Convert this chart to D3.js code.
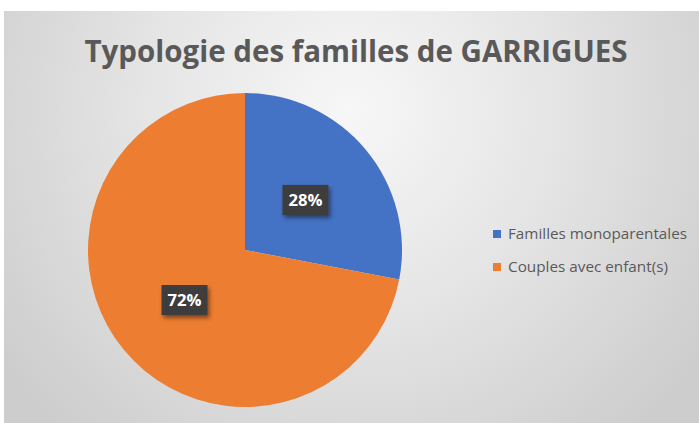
<!DOCTYPE html>
<html>
<head>
<meta charset="utf-8">
<style>
  body { margin: 0; background: #fff; }
  svg { display: block; }
</style>
</head>
<body>
<svg class="chart"></svg>

<script src="https://cdn.jsdelivr.net/npm/d3@7"></script>
<script>
// data
categories = ["Familles monoparentales", "Couples avec enfant(s)"]
values     = [28, 72]
colors     = ["#4472C4", "#ED7D31"]
title      = "Typologie des familles de GARRIGUES"

width  = 699
height = 423

const svg = d3.select("svg")
    .attr("width", width)
    .attr("height", height)
    .attr("viewBox", [0, 0, width, height]);

const defs = svg.append("defs");

// chart area background: radial gradient, light near top centre
const bg = defs.append("radialGradient")
    .attr("id", "bg")
    .attr("gradientUnits", "userSpaceOnUse")
    .attr("cx", 350).attr("cy", 110).attr("r", 430);
bg.append("stop").attr("offset", "0%").attr("stop-color", "#f7f7f7");
bg.append("stop").attr("offset", "45%").attr("stop-color", "#e6e6e6");
bg.append("stop").attr("offset", "100%").attr("stop-color", "#cdcdcd");

const shadow = defs.append("filter")
    .attr("id", "shadow")
    .attr("x", "-30%").attr("y", "-30%")
    .attr("width", "160%").attr("height", "160%");
shadow.append("feDropShadow")
    .attr("dx", 2).attr("dy", 3)
    .attr("stdDeviation", 2)
    .attr("flood-color", "#000")
    .attr("flood-opacity", 0.45);

svg.append("rect")
    .attr("x", 4).attr("y", 11)
    .attr("width", width - 4).attr("height", height - 11)
    .attr("fill", "url(#bg)");

// title (Calibri is not available, so the bold sans is squeezed to the same width)
svg.append("text")
    .attr("x", 356).attr("y", 62)
    .attr("text-anchor", "middle")
    .attr("font-family", "Open Sans, sans-serif")
    .attr("font-weight", "bold")
    .attr("font-size", 31)
    .attr("fill", "#595959")
    .attr("textLength", 543)
    .attr("lengthAdjust", "spacingAndGlyphs")
    .text(title);

// pie
const cx = 245, cy = 250, r = 157;

const pie = d3.pie().sort(null).value(d => d)(values);
const arc = d3.arc().innerRadius(0).outerRadius(r);

const g = svg.append("g")
    .attr("transform", `translate(${cx},${cy})`);

g.selectAll("path")
    .data(pie)
    .join("path")
      .attr("d", arc)
      .attr("fill", (d, i) => colors[i]);

// data labels: dark boxes with a drop shadow
const total = d3.sum(values);

const labels = g.selectAll("g.label")
    .data(pie)
    .join("g")
      .attr("class", "label")
      .attr("transform", d => `translate(${arc.centroid(d)})`);

labels.append("rect")
    .attr("x", -23).attr("y", -15)
    .attr("width", 46).attr("height", 30)
    .attr("fill", "#3d3d3d")
    .attr("filter", "url(#shadow)");

labels.append("text")
    .attr("text-anchor", "middle")
    .attr("dy", "0.36em")
    .attr("font-family", "Open Sans, sans-serif")
    .attr("font-weight", "bold")
    .attr("font-size", 16)
    .attr("fill", "#fff")
    .attr("textLength", 34)
    .attr("lengthAdjust", "spacingAndGlyphs")
    .text(d => Math.round(d.data / total * 100) + "%");

// legend
const legend = svg.append("g")
    .selectAll("g")
    .data(categories)
    .join("g")
      .attr("transform", (d, i) => `translate(493,${234 + i * 33})`);

legend.append("rect")
    .attr("x", 0).attr("y", -4)
    .attr("width", 8).attr("height", 8)
    .attr("fill", (d, i) => colors[i]);

legend.append("text")
    .attr("x", 15)
    .attr("dy", "0.35em")
    .attr("font-family", "Open Sans, sans-serif")
    .attr("font-size", 14)
    .attr("fill", "#595959")
    .attr("textLength", (d, i) => [179, 160][i])
    .attr("lengthAdjust", "spacingAndGlyphs")
    .text(d => d);
</script>
</body>
</html>
